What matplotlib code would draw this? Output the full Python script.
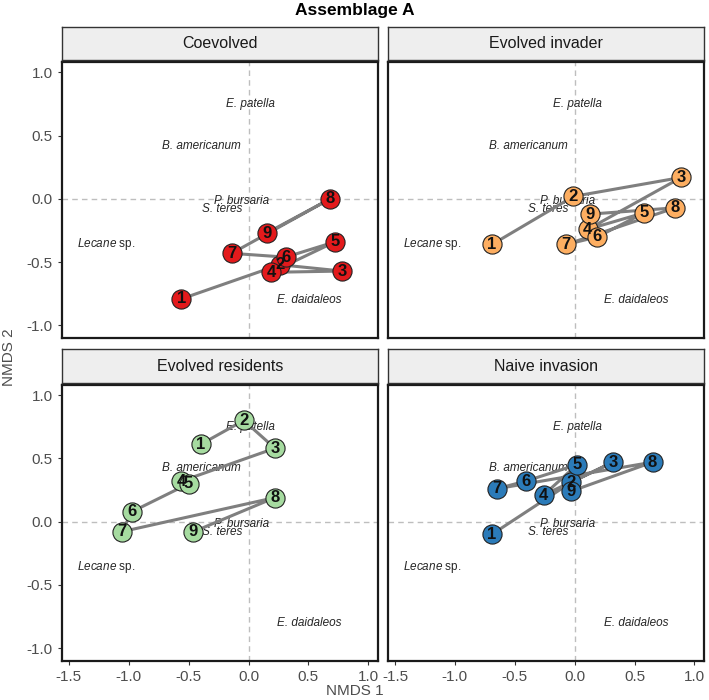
import matplotlib
matplotlib.use("Agg")
import matplotlib.pyplot as plt

plt.rcParams["font.family"] = ["Liberation Sans", "DejaVu Sans"]
plt.rcParams["mathtext.fontset"] = "custom"
plt.rcParams["mathtext.it"] = "Liberation Sans:italic"
plt.rcParams["mathtext.rm"] = "Liberation Sans"

# Panels and colours
panels = ["Coevolved", "Evolved invader", "Evolved residents", "Naive invasion"]
colors = ["#E31A1C", "#FDAE61", "#A6DBA0", "#2B7BB9"]
labels = ["1", "2", "3", "4", "5", "6", "7", "8", "9"]

# Site scores (NMDS 1, NMDS 2) per time point
coev_x = [-0.56, 0.26, 0.78, 0.19, 0.72, 0.31, -0.14, 0.68, 0.15]
coev_y = [-0.79, -0.52, -0.57, -0.58, -0.34, -0.46, -0.43, 0.00, -0.27]
inv_x = [-0.69, -0.01, 0.89, 0.11, 0.58, 0.19, -0.07, 0.84, 0.13]
inv_y = [-0.36, 0.02, 0.17, -0.24, -0.11, -0.30, -0.36, -0.07, -0.12]
res_x = [-0.40, -0.04, 0.22, -0.56, -0.50, -0.97, -1.06, 0.22, -0.46]
res_y = [0.61, 0.80, 0.58, 0.32, 0.30, 0.08, -0.08, 0.19, -0.08]
naive_x = [-0.69, -0.03, 0.32, -0.26, 0.02, -0.41, -0.65, 0.65, -0.03]
naive_y = [-0.10, 0.31, 0.47, 0.21, 0.45, 0.32, 0.26, 0.47, 0.24]

xs = [coev_x, inv_x, res_x, naive_x]
ys = [coev_y, inv_y, res_y, naive_y]

# Species scores
species = ["E. patella", "B. americanum", "P. bursaria", "S. teres", "Lecane sp.", "E. daidaleos"]
sp_x = [0.02, -0.39, -0.06, -0.22, -1.19, 0.51]
sp_y = [0.75, 0.42, -0.02, -0.08, -0.36, -0.80]

xlim = (-1.56, 1.08)
ylim = (-1.10, 1.08)

fig = plt.figure(figsize=(7.09, 7.0), dpi=100)

lefts = [0.087, 0.547]
bottoms = [0.517, 0.056]
w, h = 0.446, 0.394
strip_h = 0.048

for i, name in enumerate(panels):
    r, c = divmod(i, 2)
    ax = fig.add_axes([lefts[c], bottoms[r], w, h])
    sax = fig.add_axes([lefts[c], bottoms[r] + h + 0.003, w, strip_h])
    sax.set_facecolor("#EEEEEE")
    sax.set_xticks([])
    sax.set_yticks([])
    for s in sax.spines.values():
        s.set_color("#333333")
        s.set_linewidth(1.0)
    sax.text(0.5, 0.5, name, ha="center", va="center", fontsize=11.5, color="#1A1A1A",
             transform=sax.transAxes)

    ax.axhline(0, color="#BEBEBE", ls=(0, (4, 3)), lw=1.0, zorder=0)
    ax.axvline(0, color="#BEBEBE", ls=(0, (4, 3)), lw=1.0, zorder=0)

    # species labels, genus in italics
    for sp, sx, sy in zip(species, sp_x, sp_y):
        if sp.endswith(" sp."):
            txt = r"$\mathit{" + sp[:-4] + r"}$ sp."
        else:
            txt = sp
        ax.text(sx, sy, txt, style="italic" if txt == sp else "normal",
                ha="center", va="center", fontsize=8.5, color="#262626", zorder=1)

    ax.plot(xs[i], ys[i], color="#7F7F7F", lw=2.2, zorder=2, solid_capstyle="round")
    ax.scatter(xs[i], ys[i], s=190, c=colors[i], edgecolors="#222222", linewidths=0.8, zorder=3)
    for lab, px, py in zip(labels, xs[i], ys[i]):
        ax.text(px, py, lab, ha="center", va="center", fontsize=12, fontweight="bold",
                color="#111111", zorder=4)

    ax.set_xlim(xlim)
    ax.set_ylim(ylim)
    ax.set_xticks([-1.5, -1.0, -0.5, 0.0, 0.5, 1.0])
    ax.set_yticks([-1.0, -0.5, 0.0, 0.5, 1.0])
    ax.xaxis.set_major_formatter(plt.FormatStrFormatter("%.1f"))
    ax.yaxis.set_major_formatter(plt.FormatStrFormatter("%.1f"))
    ax.tick_params(colors="#333333", labelcolor="#4D4D4D", labelsize=11, length=3, width=0.8)
    if r == 0:
        ax.tick_params(axis="x", bottom=False, labelbottom=False)
    if c == 1:
        ax.tick_params(axis="y", left=False, labelleft=False)
    for s in ax.spines.values():
        s.set_color("#1A1A1A")
        s.set_linewidth(1.6)

fig.text(0.5, 0.985, "Assemblage A", ha="center", va="center", fontsize=12.5, fontweight="bold")
fig.text(0.5, 0.013, "NMDS 1", ha="center", va="center", fontsize=11, color="#4D4D4D")
fig.text(0.012, 0.49, "NMDS 2", ha="center", va="center", rotation=90, fontsize=11, color="#4D4D4D")

fig.savefig("out.png", dpi=100)
